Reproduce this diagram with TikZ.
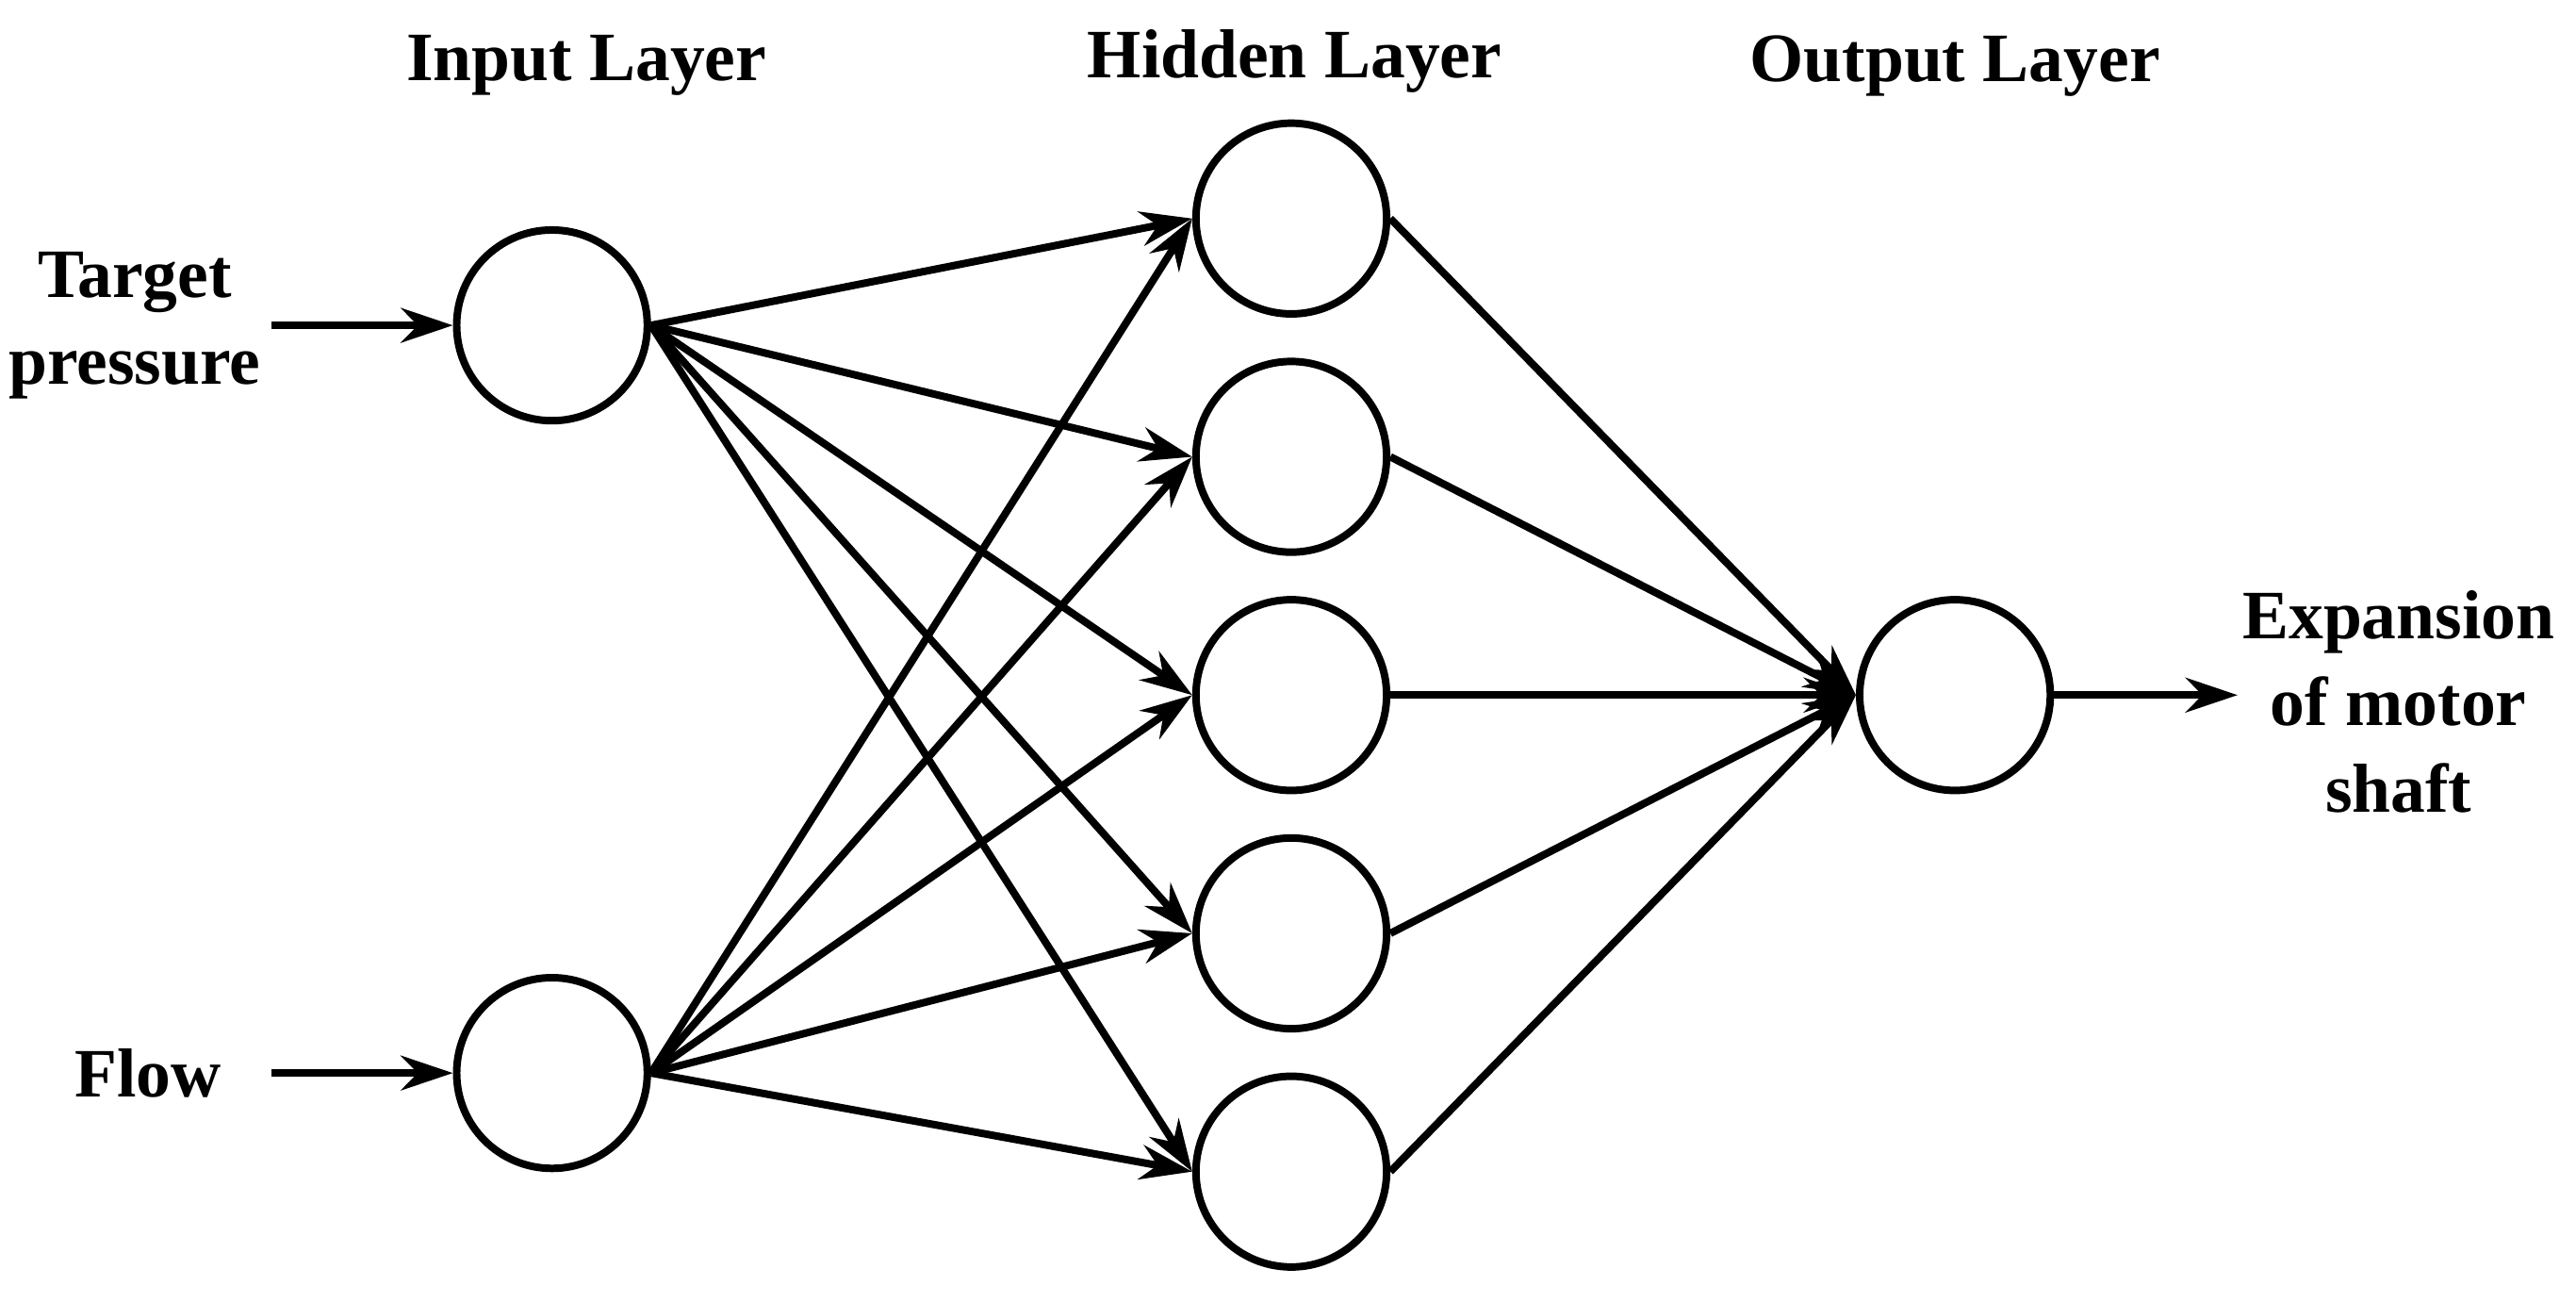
\documentclass[tikz,border=0pt]{standalone}
\usepackage{fontspec}
\setmainfont{Liberation Serif}
\usetikzlibrary{arrows.meta}
\begin{document}
\begin{tikzpicture}[x=0.01cm,y=-0.01cm,
  neuron/.style={circle,draw,line width=1.3pt,minimum size=1.16cm,inner sep=0pt},
  lab/.style={font=\fontsize{12}{13}\selectfont\bfseries,align=center},
  arr/.style={line width=1.3pt,-{Stealth[length=9pt,width=6pt]}}]
\useasboundingbox (0,0) rectangle (1568,792);
\node[neuron] (i1) at (336,198) {};
\node[neuron] (i2) at (336,653) {};
\foreach \k/\y in {1/133,2/278,3/423,4/568,5/713}{\node[neuron] (h\k) at (786,\y) {};}
\node[neuron] (o) at (1190,423) {};
\node[lab] (ll1) at (357,40) {Input Layer};
\node[lab] (ll2) at (788,37) {Hidden Layer};
\node[lab] (ll3) at (1190,40) {Output Layer};
\node[lab,font=\fontsize{12}{15}\selectfont\bfseries] (tp) at (82,198) {Target\\pressure};
\node[lab] (fl) at (90,653) {Flow};
\node[lab,font=\fontsize{12}{15}\selectfont\bfseries] (ex) at (1460,427) {Expansion\\of motor\\shaft};
\coordinate (a1) at (165,198);
\coordinate (a2) at (165,653);
\coordinate (a3) at (1362,423);
\draw[arr] (a1) -- (i1.west);
\draw[arr] (a2) -- (i2.west);
\draw[arr] (o.east) -- (a3);
\foreach \k in {1,...,5}{
  \draw[arr] (i1.east) -- (h\k.west);
  \draw[arr] (i2.east) -- (h\k.west);
  \draw[arr] (h\k.east) -- (o.west);
}
\end{tikzpicture}
\end{document}
